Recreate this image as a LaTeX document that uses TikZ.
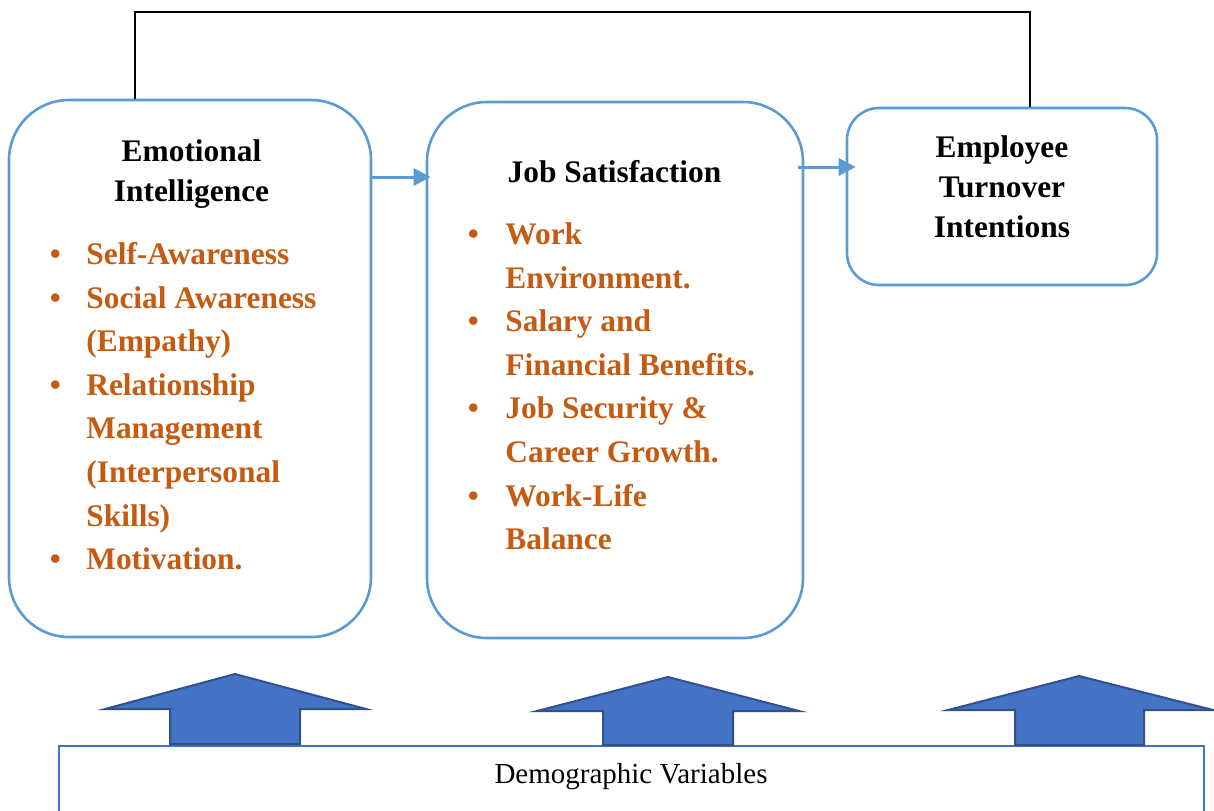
\documentclass[tikz,border=0pt]{standalone}
\usepackage{fontspec}
\setmainfont{Liberation Serif}
\usetikzlibrary{arrows.meta}
\definecolor{boxblue}{HTML}{5B9BD5}
\definecolor{fatblue}{HTML}{4472C4}
\definecolor{fatedge}{HTML}{2F528F}
\definecolor{orng}{HTML}{C55A11}
\begin{document}
\begin{tikzpicture}[x=0.5pt,y=-0.5pt,
  box/.style={draw=boxblue, line width=1.3pt, rounded corners=30pt, inner sep=0pt},
  ttl/.style={font=\fontsize{15.7}{19.75}\selectfont\bfseries, inner sep=0pt, anchor=base},
  lst/.style={font=\fontsize{15.7}{21.8}\selectfont\bfseries, text=orng, inner sep=0pt, anchor=base west},
  flow/.style={draw=boxblue, line width=1.5pt, -{Triangle[length=8.5pt,width=8.5pt]}},
  conn/.style={draw=black, line width=1pt},
  fat/.style={fill=fatblue, draw=fatedge, line width=1pt, line join=miter},
  demo/.style={draw=fatblue, line width=1pt, inner sep=0pt}]
\useasboundingbox (0,0) rectangle (1214,810);
\clip (0,0) rectangle (1214,810);

% boxes
\node[box, minimum width=181pt, minimum height=268.5pt] (ei) at (190,368.5) {};
\node[box, minimum width=188pt, minimum height=268pt] (js) at (615,370) {};
\node[box, rounded corners=16pt, minimum width=155pt, minimum height=88.5pt] (eti) at (1002,196.5) {};

% titles
\node[ttl] (eit) at (191.5,161.5) {\begin{tabular}[t]{@{}c@{}}Emotional\\Intelligence\end{tabular}};
\node[ttl] (jst) at (614.5,182) {Job Satisfaction};
\node[ttl, font=\fontsize{15.7}{20}\selectfont\bfseries] (etit) at (1002,157.5) {\begin{tabular}[t]{@{}c@{}}Employee\\Turnover\\Intentions\end{tabular}};

% bullet lists
\node[lst] (eil) at (49.5,264.5) {\begin{tabular}[t]{@{}p{18.25pt}@{}l@{}}
\textbullet & Self-Awareness\\
\textbullet & Social Awareness\\
 & (Empathy)\\
\textbullet & Relationship\\
 & Management\\
 & (Interpersonal\\
 & Skills)\\
\textbullet & Motivation.
\end{tabular}};
\node[lst] (jsl) at (467.5,244.5) {\begin{tabular}[t]{@{}p{18.75pt}@{}l@{}}
\textbullet & Work\\
 & Environment.\\
\textbullet & Salary and\\
 & Financial Benefits.\\
\textbullet & Job Security \&\\
 & Career Growth.\\
\textbullet & Work-Life\\
 & Balance
\end{tabular}};

% top feedback line
\coordinate (c1) at (135,12);
\coordinate (c2) at (1030,12);
\draw[conn] (ei.north -| c1) -- (c1) -- (c2) -- (eti.north -| c2);

% flow arrows
\coordinate (f1) at (0,177);
\coordinate (f2) at (0,167);
\draw[flow, shorten >=-2.5pt] (ei.east |- f1) -- (js.west |- f1);
\draw[flow, shorten <=-3pt, shorten >=-5pt] (js.east |- f2) -- (eti.west |- f2);

% demographic box
\node[demo, anchor=north west, minimum width=572.5pt, minimum height=40pt] (dv) at (58,745) {};
\node[inner sep=0pt, anchor=base, font=\fontsize{14.5}{17}\selectfont] (dvt) at (631,783) {Demographic Variables};

% block arrows
\draw[fat] (170,744) -- (170,709) -- (105,709) -- (235,674) -- (366,709) -- (300,709) -- (300,744) -- cycle;
\draw[fat] (603,745) -- (603,711) -- (537,711) -- (668,677) -- (799,711) -- (733,711) -- (733,745) -- cycle;
\draw[fat] (1015,745) -- (1015,710) -- (948,710) -- (1079,676) -- (1213,710) -- (1144,710) -- (1144,745) -- cycle;
\end{tikzpicture}
\end{document}
